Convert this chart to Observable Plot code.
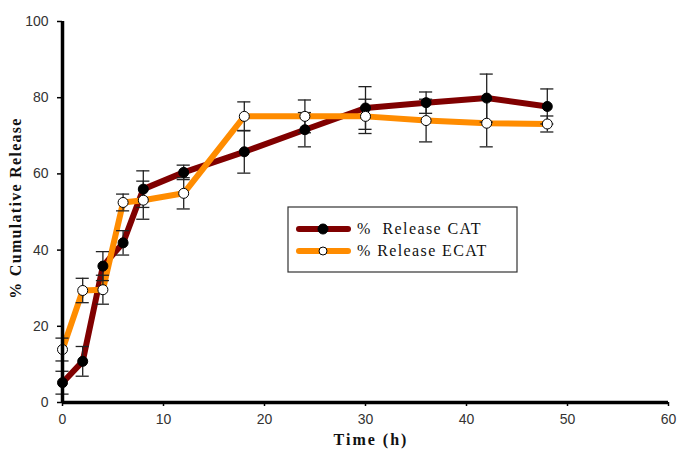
<!DOCTYPE html>
<html>
<head>
<meta charset="utf-8">
<script src="https://cdn.jsdelivr.net/npm/d3@7"></script>
<script src="https://cdn.jsdelivr.net/npm/@observablehq/plot@0.6"></script>
<style>
  html, body { margin: 0; padding: 0; background: white; }
  #chart { width: 695px; height: 456px; }
</style>
</head>
<body>
<div id="chart"></div>
<script>
const times = [0, 2, 4, 6, 8, 12, 18, 24, 30, 36, 42, 48];
const catRelease = [5.2, 10.8, 35.8, 41.9, 56.0, 60.4, 65.8, 71.6, 77.3, 78.7, 79.9, 77.7];
const catSD = [3.0, 3.9, 3.8, 3.2, 4.8, 1.9, 5.6, 4.5, 5.6, 2.8, 6.3, 4.6];
const ecatRelease = [13.9, 29.4, 29.6, 52.5, 53.1, 54.9, 75.1, 75.1, 75.1, 74.0, 73.3, 73.1];
const ecatSD = [3.0, 3.2, 3.8, 2.2, 5.0, 4.1, 3.8, 4.3, 4.5, 5.6, 6.2, 2.1];
const xTicks = [0, 10, 20, 30, 40, 50, 60];
const yTicks = [0, 20, 40, 60, 80, 100];
const seriesNames = ["%  Release CAT", "% Release ECAT"];
const seriesColors = ["#800000", "#ff8c00"];

const cat = times.map((t, i) => ({t, v: catRelease[i], sd: catSD[i]}));
const ecat = times.map((t, i) => ({t, v: ecatRelease[i], sd: ecatSD[i]}));
const capHalf = 0.65;

function errMarks(rows) {
  return [
    Plot.ruleX(rows, {x: "t", y1: d => d.v - d.sd, y2: d => d.v + d.sd, stroke: "#222", strokeWidth: 1.3}),
    Plot.ruleY(rows, {y: d => d.v - d.sd, x1: d => d.t - capHalf, x2: d => d.t + capHalf, stroke: "#222", strokeWidth: 1.3}),
    Plot.ruleY(rows, {y: d => d.v + d.sd, x1: d => d.t - capHalf, x2: d => d.t + capHalf, stroke: "#222", strokeWidth: 1.3})
  ];
}

const chart = Plot.plot({
  width: 695,
  height: 456,
  marginLeft: 62,
  marginRight: 27,
  marginTop: 21,
  marginBottom: 54,
  style: {fontFamily: "'Liberation Sans', Arial, sans-serif", fontSize: "14px", color: "#333", background: "white"},
  x: {domain: [0, 60]},
  y: {domain: [0, 100]},
  marks: [
    Plot.axisX({ticks: xTicks, tickSize: 4, tickPadding: 8, stroke: "black", strokeWidth: 1.5, label: null, fill: "#333", fontSize: 14}),
    Plot.axisY({ticks: yTicks, tickSize: 5, tickPadding: 9, stroke: "black", strokeWidth: 1.5, label: null, fill: "#333", fontSize: 14}),
    Plot.line(cat, {x: "t", y: "v", stroke: seriesColors[0], strokeWidth: 6, strokeLinejoin: "round"}),
    Plot.line(ecat, {x: "t", y: "v", stroke: seriesColors[1], strokeWidth: 6, strokeLinejoin: "round"}),
    ...errMarks(cat),
    ...errMarks(ecat),
    Plot.dot(cat, {x: "t", y: "v", r: 5, fill: "black", stroke: "black", strokeWidth: 1}),
    Plot.dot(ecat, {x: "t", y: "v", r: 5, fill: "white", stroke: "black", strokeWidth: 1}),
    Plot.ruleX([0], {y1: 0, y2: 100, stroke: "black", strokeWidth: 3.5}),
    Plot.ruleY([0], {x1: 0, x2: 60, stroke: "black", strokeWidth: 3.5})
  ]
});

document.getElementById("chart").appendChild(chart);

const svg = d3.select(chart);
const serif = "'Liberation Serif', 'Times New Roman', serif";
svg.append("text")
  .attr("transform", "translate(21,208) rotate(-90)")
  .attr("text-anchor", "middle")
  .attr("font-family", serif).attr("font-weight", "bold").attr("font-size", 16)
  .attr("letter-spacing", "1.3px")
  .attr("fill", "#111")
  .text("% Cumulative Release");
svg.append("text")
  .attr("x", 371).attr("y", 445)
  .attr("text-anchor", "middle")
  .attr("font-family", serif).attr("font-weight", "bold").attr("font-size", 16)
  .attr("letter-spacing", "2px")
  .attr("fill", "#111")
  .text("Time (h)");

const lg = svg.append("g");
lg.append("rect").attr("x", 288).attr("y", 207).attr("width", 229).attr("height", 65)
  .attr("fill", "white").attr("stroke", "#333").attr("stroke-width", 1.2);
[0, 1].forEach(i => {
  const y = 229 + i * 22;
  lg.append("line").attr("x1", 299).attr("x2", 348).attr("y1", y).attr("y2", y)
    .attr("stroke", seriesColors[i]).attr("stroke-width", 6).attr("stroke-linecap", "round");
  lg.append("circle").attr("cx", 323).attr("cy", y).attr("r", i === 0 ? 5 : 4)
    .attr("fill", i === 0 ? "black" : "white").attr("stroke", "black");
  lg.append("text").attr("x", 357).attr("y", y + 5)
    .attr("text-anchor", "start")
    .attr("xml:space", "preserve")
    .style("white-space", "pre")
    .attr("font-family", serif).attr("font-size", 16).attr("letter-spacing", "1.4px")
    .attr("fill", "#111")
    .text(seriesNames[i]);
});
</script>
</body>
</html>
